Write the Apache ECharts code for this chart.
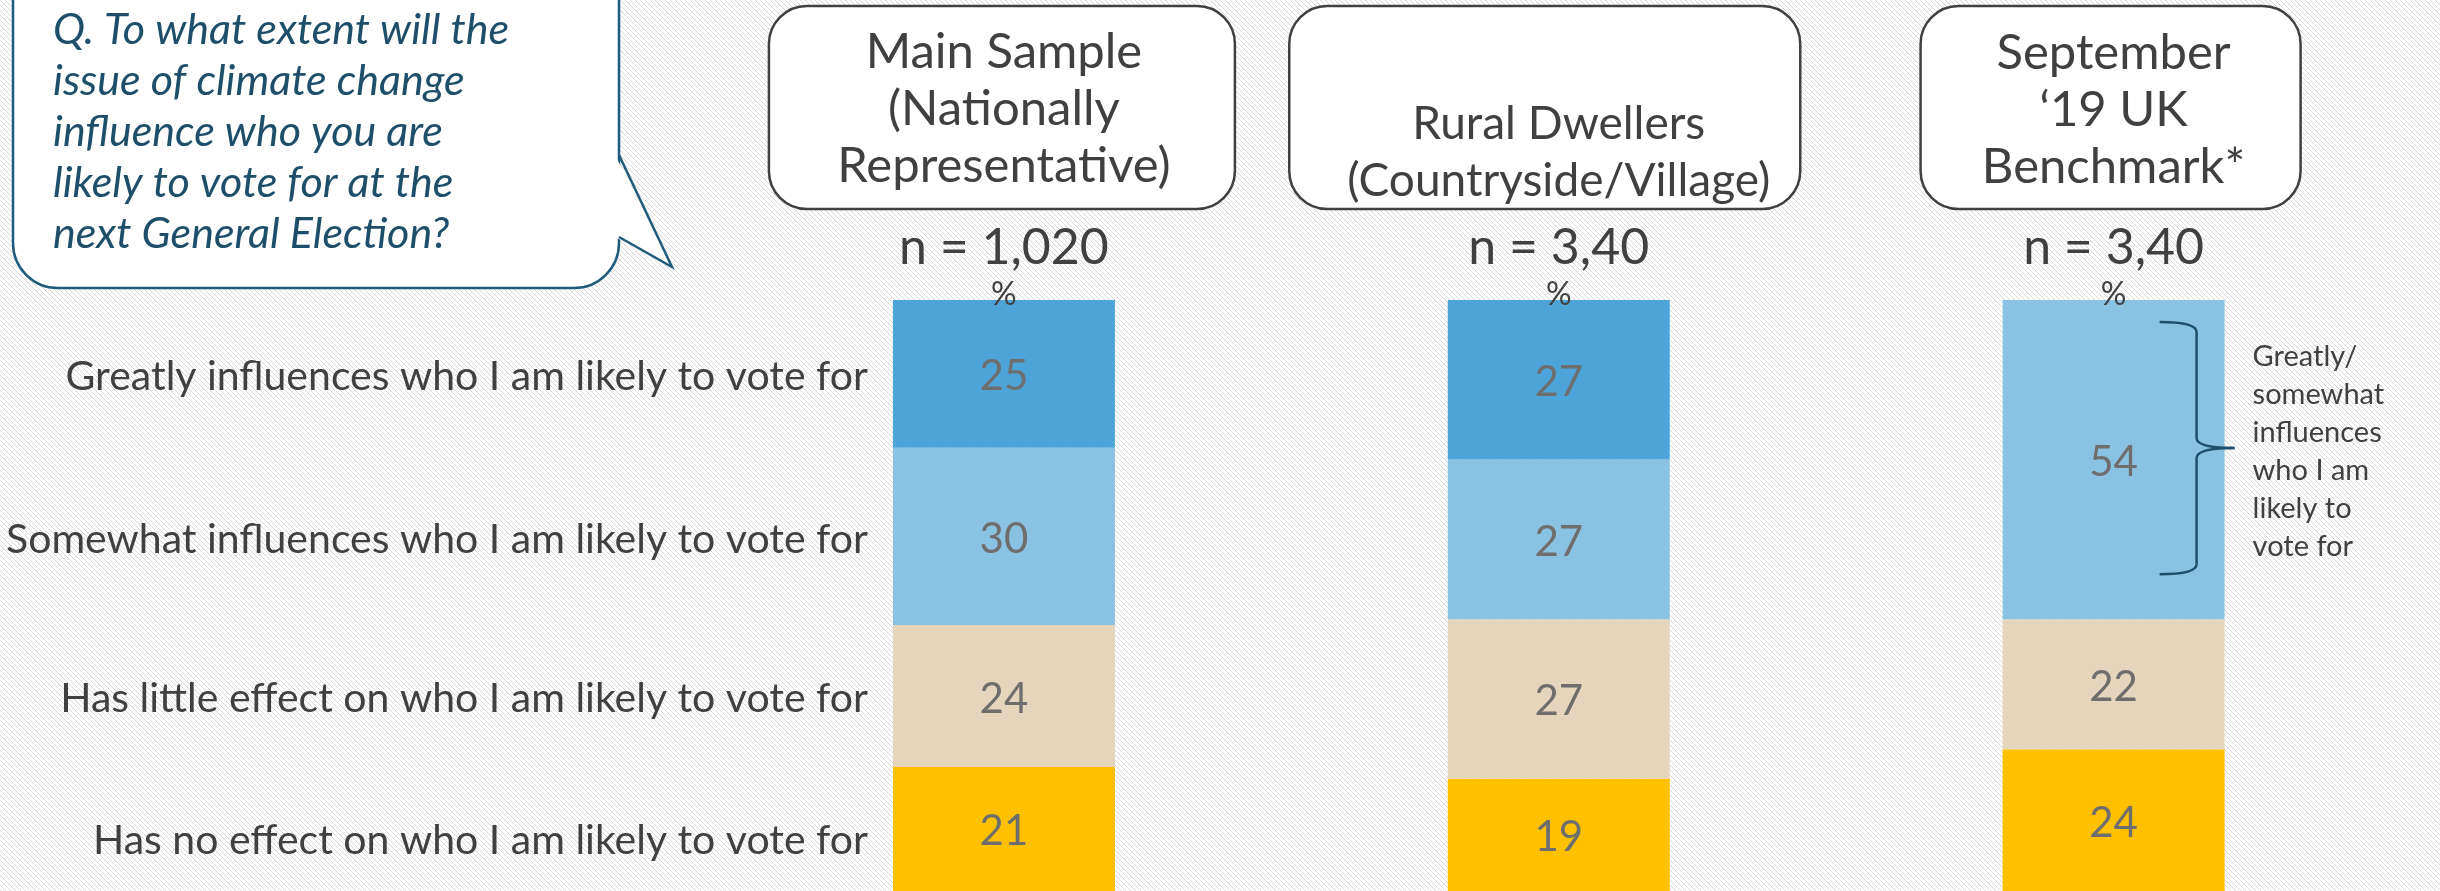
<!DOCTYPE html>
<html>
<head>
<meta charset="utf-8">
<script src="https://cdn.jsdelivr.net/npm/echarts@6/dist/echarts.min.js"></script>
<style>
    html, body { margin: 0; padding: 0; background: #ffffff; }
    #main { width: 2440px; height: 891px; }
</style>
</head>
<body>
<div id="main"></div>
<script>
// data
const groups = ['Main Sample', 'Rural Dwellers', 'September Benchmark']
const headerTexts = ['Main Sample\n(Nationally\nRepresentative)', 'Rural Dwellers\n(Countryside/Village)', 'September\n‘19 UK\nBenchmark*']
const sampleSizes = ['n = 1,020', 'n = 3,40', 'n = 3,40']
const answers = [
    'Greatly influences who I am likely to vote for',
    'Somewhat influences who I am likely to vote for',
    'Has little effect on who I am likely to vote for',
    'Has no effect on who I am likely to vote for'
]
const greatly = [25, 27, '-']
const somewhat = [30, 27, 54]
const littleEffect = [24, 27, 22]
const noEffect = [21, 19, 24]
const colours = ['#4ca4d8', '#8ac2e4', '#e5d5bd', '#ffc000']
const question = 'Q. To what extent will the\nissue of climate change\ninfluence who you are\nlikely to vote for at the\nnext General Election?'
const benchNote = 'Greatly/\nsomewhat\ninfluences\nwho I am\nlikely to\nvote for'

const FONT = 'Lato, "Open Sans", sans-serif'
const values = [greatly, somewhat, littleEffect, noEffect]

// fine diagonal hatch behind the chart
let tile = document.createElement('canvas')
tile.width = 5
tile.height = 5
let tctx = tile.getContext('2d')
tctx.fillStyle = '#ffffff'
tctx.fillRect(0, 0, 5, 5)
tctx.fillStyle = '#d8d8d8'
for (let i = 0; i < 5; i++) tctx.fillRect(i, i, 1, 1)
document.body.style.backgroundImage = 'url(' + tile.toDataURL() + ')'

var myChart = echarts.init(document.getElementById('main'))

// stack from the bottom up: no effect first
let series = []
for (let k = values.length - 1; k >= 0; k--) {
    series.push({
        name: answers[k],
        type: 'bar',
        stack: 'total',
        barWidth: 222,
        data: values[k],
        itemStyle: { color: colours[k] },
        label: {
            show: true,
            position: 'inside',
            offset: [0, 3],
            color: '#6e6e6e',
            fontSize: 42,
            fontFamily: FONT
        }
    })
}

var option = {
    animation: false,
    grid: { left: 726.5, right: 49, top: 300, height: 596 },
    xAxis: {
        type: 'category',
        data: groups,
        position: 'top',
        z: 10,
        axisLine: { show: false },
        axisTick: { show: false },
        axisLabel: {
            margin: -12,
            interval: 0,
            formatter: (v, i) => `{n|${sampleSizes[i]}}\n{p|%}`,
            rich: {
                n: { fontSize: 50, lineHeight: 60, color: '#404040', fontFamily: FONT, align: 'center' },
                p: { fontSize: 32, lineHeight: 34, color: '#404040', fontFamily: FONT, align: 'center' }
            }
        }
    },
    yAxis: { type: 'value', min: 0, max: 100, show: false },
    series: series
}

myChart.setOption(option)

// annotations placed from the chart's own scales
function px(i, v) {
    return myChart.convertToPixel({ gridIndex: 0 }, [i, v])
}

let graphics = []

// speech bubble with the question
graphics.push({
    type: 'rect', z: 10,
    shape: { x: 13, y: -60, width: 606, height: 348, r: 45 },
    style: { fill: '#ffffff', stroke: '#215a7c', lineWidth: 2.5 }
})
graphics.push({
    type: 'polygon', z: 11,
    shape: { points: [[615, 155], [672, 267], [615, 237]] },
    style: { fill: '#ffffff' }
})
graphics.push({
    type: 'polyline', z: 12,
    shape: { points: [[619, 155], [672, 267], [619, 237]] },
    style: { stroke: '#215a7c', lineWidth: 2.5, fill: null }
})
graphics.push({
    type: 'text', z: 12, x: 53, y: 132,
    style: {
        text: question, fill: '#1f4e6b', fontSize: 43, fontStyle: 'italic',
        fontFamily: FONT, lineHeight: 51, verticalAlign: 'middle', align: 'left'
    }
})

// header boxes
const boxWidths = [466, 511, 380]
const boxShift = [-2, -14, -3]
const headerMid = [109, 153, 110]
const headerSize = [49, 46, 49]
groups.forEach((g, i) => {
    let cx = px(i, 0)[0]
    graphics.push({
        type: 'rect', z: 10,
        shape: { x: cx + boxShift[i] - boxWidths[i] / 2, y: 6, width: boxWidths[i], height: 203, r: 38 },
        style: { fill: '#ffffff', stroke: '#404040', lineWidth: 2.5 }
    })
    graphics.push({
        type: 'text', z: 11, x: cx, y: headerMid[i],
        style: {
            text: headerTexts[i], fill: '#404040', fontSize: headerSize[i], fontFamily: FONT,
            lineHeight: 57, align: 'center', verticalAlign: 'middle'
        }
    })
})

// answer labels on the left, centred on the main sample segments
let barLeft = px(0, 0)[0] - 111
let below = 0
for (let k = values.length - 1; k >= 0; k--) {
    let v = values[k][0]
    let yTop = px(0, below + v)[1]
    let yBot = Math.min(px(0, below)[1], 891)
    graphics.push({
        type: 'text', z: 10, x: barLeft - 25, y: (yTop + yBot) / 2 + (k === 3 ? 12 : 3),
        style: {
            text: answers[k], fill: '#404040', fontSize: 41, fontFamily: FONT,
            align: 'right', verticalAlign: 'middle'
        }
    })
    below += v
}

// bracket on the benchmark bar
let benchTop = px(2, 100)[1]
let benchSegBot = px(2, littleEffect[2] + noEffect[2])[1]
let benchRight = px(2, 0)[0] + 111
let xv = benchRight - 28, x0 = benchRight - 65, xt = benchRight + 10
let yT = benchTop + 22, yB = benchSegBot - 45, yM = (yT + yB) / 2
const br = { stroke: '#1f4e6b', lineWidth: 2.5, fill: null }
graphics.push(
    { type: 'bezierCurve', z: 20, shape: { x1: x0, y1: yT, x2: xv, y2: yT + 10, cpx1: xv, cpy1: yT }, style: br },
    { type: 'line', z: 20, shape: { x1: xv, y1: yT + 10, x2: xv, y2: yM - 10 }, style: br },
    { type: 'bezierCurve', z: 20, shape: { x1: xv, y1: yM - 10, x2: xt, y2: yM, cpx1: xv, cpy1: yM }, style: br },
    { type: 'bezierCurve', z: 20, shape: { x1: xt, y1: yM, x2: xv, y2: yM + 10, cpx1: xv, cpy1: yM }, style: br },
    { type: 'line', z: 20, shape: { x1: xv, y1: yM + 10, x2: xv, y2: yB - 10 }, style: br },
    { type: 'bezierCurve', z: 20, shape: { x1: xv, y1: yB - 10, x2: x0, y2: yB, cpx1: xv, cpy1: yB }, style: br }
)
graphics.push({
    type: 'text', z: 10, x: benchRight + 28, y: 452,
    style: {
        text: benchNote, fill: '#404040', fontSize: 29, fontFamily: FONT,
        lineHeight: 38, align: 'left', verticalAlign: 'middle'
    }
})

myChart.setOption({ graphic: graphics })
</script>
</body>
</html>
